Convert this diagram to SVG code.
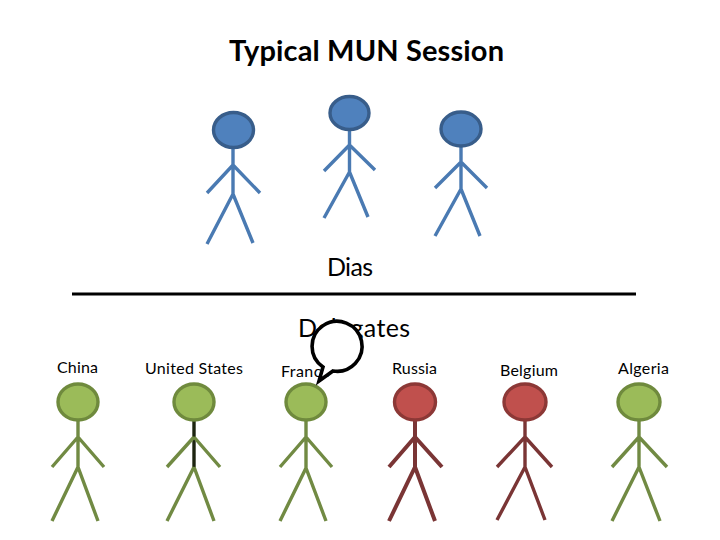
<svg xmlns="http://www.w3.org/2000/svg" width="720" height="540" viewBox="0 0 720 540">
<defs>
<style>
text{font-family:"Lato","Carlito","Liberation Sans",sans-serif;fill:#000}
.title{font-size:29px;font-weight:700}
.big{font-size:25px}
.c{font-size:16px}
.b path{fill:none;stroke:#4a7ab2;stroke-width:3.4}
.b ellipse{fill:#4f81bd;stroke:#385d8a;stroke-width:3.4}
.g path{fill:none;stroke:#718a43;stroke-width:3.4}
.g ellipse{fill:#9bbb59;stroke:#6f8a3d;stroke-width:3.4}
.r path{fill:none;stroke:#7a3535;stroke-width:3.4}
.r ellipse{fill:#c0504d;stroke:#8c3836;stroke-width:3.4}
</style>
</defs>
<rect width="720" height="540" fill="#fff"/>
<text id="title" class="title" x="229" y="61" textLength="275">Typical MUN Session</text>
<g id="dias-1" class="b"><path d="M233 148V194M233 165L207 193M233 165L260 193M233 194L207 244M233 194L253 243"/><ellipse cx="233.500" cy="130" rx="20" ry="17.500"/></g>
<g id="dias-2" class="b"><path d="M349.500 129V172M349.500 145L324 171M349.500 145L375 170M349.500 172L324 218M349.500 172L368 217"/><ellipse cx="349.500" cy="113" rx="19.500" ry="16.500"/></g>
<g id="dias-3" class="b"><path d="M461 146V189M461 162L435 188M461 162L487 188M461 189L435 236M461 189L480 236"/><ellipse cx="461" cy="129" rx="20" ry="17"/></g>
<text id="dias-label" class="big" x="327" y="276" textLength="46">Dias</text>
<g id="connectors"><path d="M72 294H636" fill="none" stroke="#000" stroke-width="3"/></g>
<text id="delegates-label" class="big" x="298" y="337" textLength="112">Delegates</text>
<text id="label-china" class="c" x="57" y="373" textLength="41">China</text>
<text id="label-us" class="c" x="145" y="374" textLength="98">United States</text>
<text id="label-france" class="c" x="281" y="377" textLength="49">France</text>
<text id="label-russia" class="c" x="392" y="374" textLength="45">Russia</text>
<text id="label-belgium" class="c" x="500" y="376" textLength="58">Belgium</text>
<text id="label-algeria" class="c" x="618" y="374" textLength="51">Algeria</text>
<g id="china" class="g"><path d="M78 420V467M78 437L52 467M78 437L104 467M78 467L52 521M78 467L98 521"/><ellipse cx="78" cy="402" rx="20" ry="18"/></g>
<g id="us" class="g"><path d="M194 420V467" style="stroke:#1d2510"/><path d="M194 437L167 467M194 437L220 467M194 467L167 521M194 467L214 521"/><ellipse cx="194" cy="402" rx="20" ry="18"/></g>
<g id="france" class="g"><path d="M306 420V468M306 437L280 467M306 437L332 467M306 468L280 521M306 468L326 521"/><ellipse cx="306" cy="402" rx="20" ry="18"/></g>
<g id="russia" class="r"><path d="M415 420V467M415 437L389 467M415 437L442 467M415 467L389 521M415 467L435 521" style="stroke-width:4"/><ellipse cx="415" cy="402" rx="20.500" ry="18"/></g>
<g id="belgium" class="r"><path d="M525 420V467M525 437L497 467M525 437L552 467M525 467L497 520M525 467L545 520"/><ellipse cx="525" cy="402" rx="21" ry="18"/></g>
<g id="algeria" class="g"><path d="M639 420V467M639 437L612 467M639 437L667 467M639 467L612 521M639 467L660 521"/><ellipse cx="639" cy="402" rx="21" ry="18"/></g>
<g id="speech-bubble"><path d="M323 367A25 25 0 1 1 333 371L319 381Z" fill="#fff" stroke="#000" stroke-width="3.600" stroke-linejoin="miter"/></g>
</svg>
